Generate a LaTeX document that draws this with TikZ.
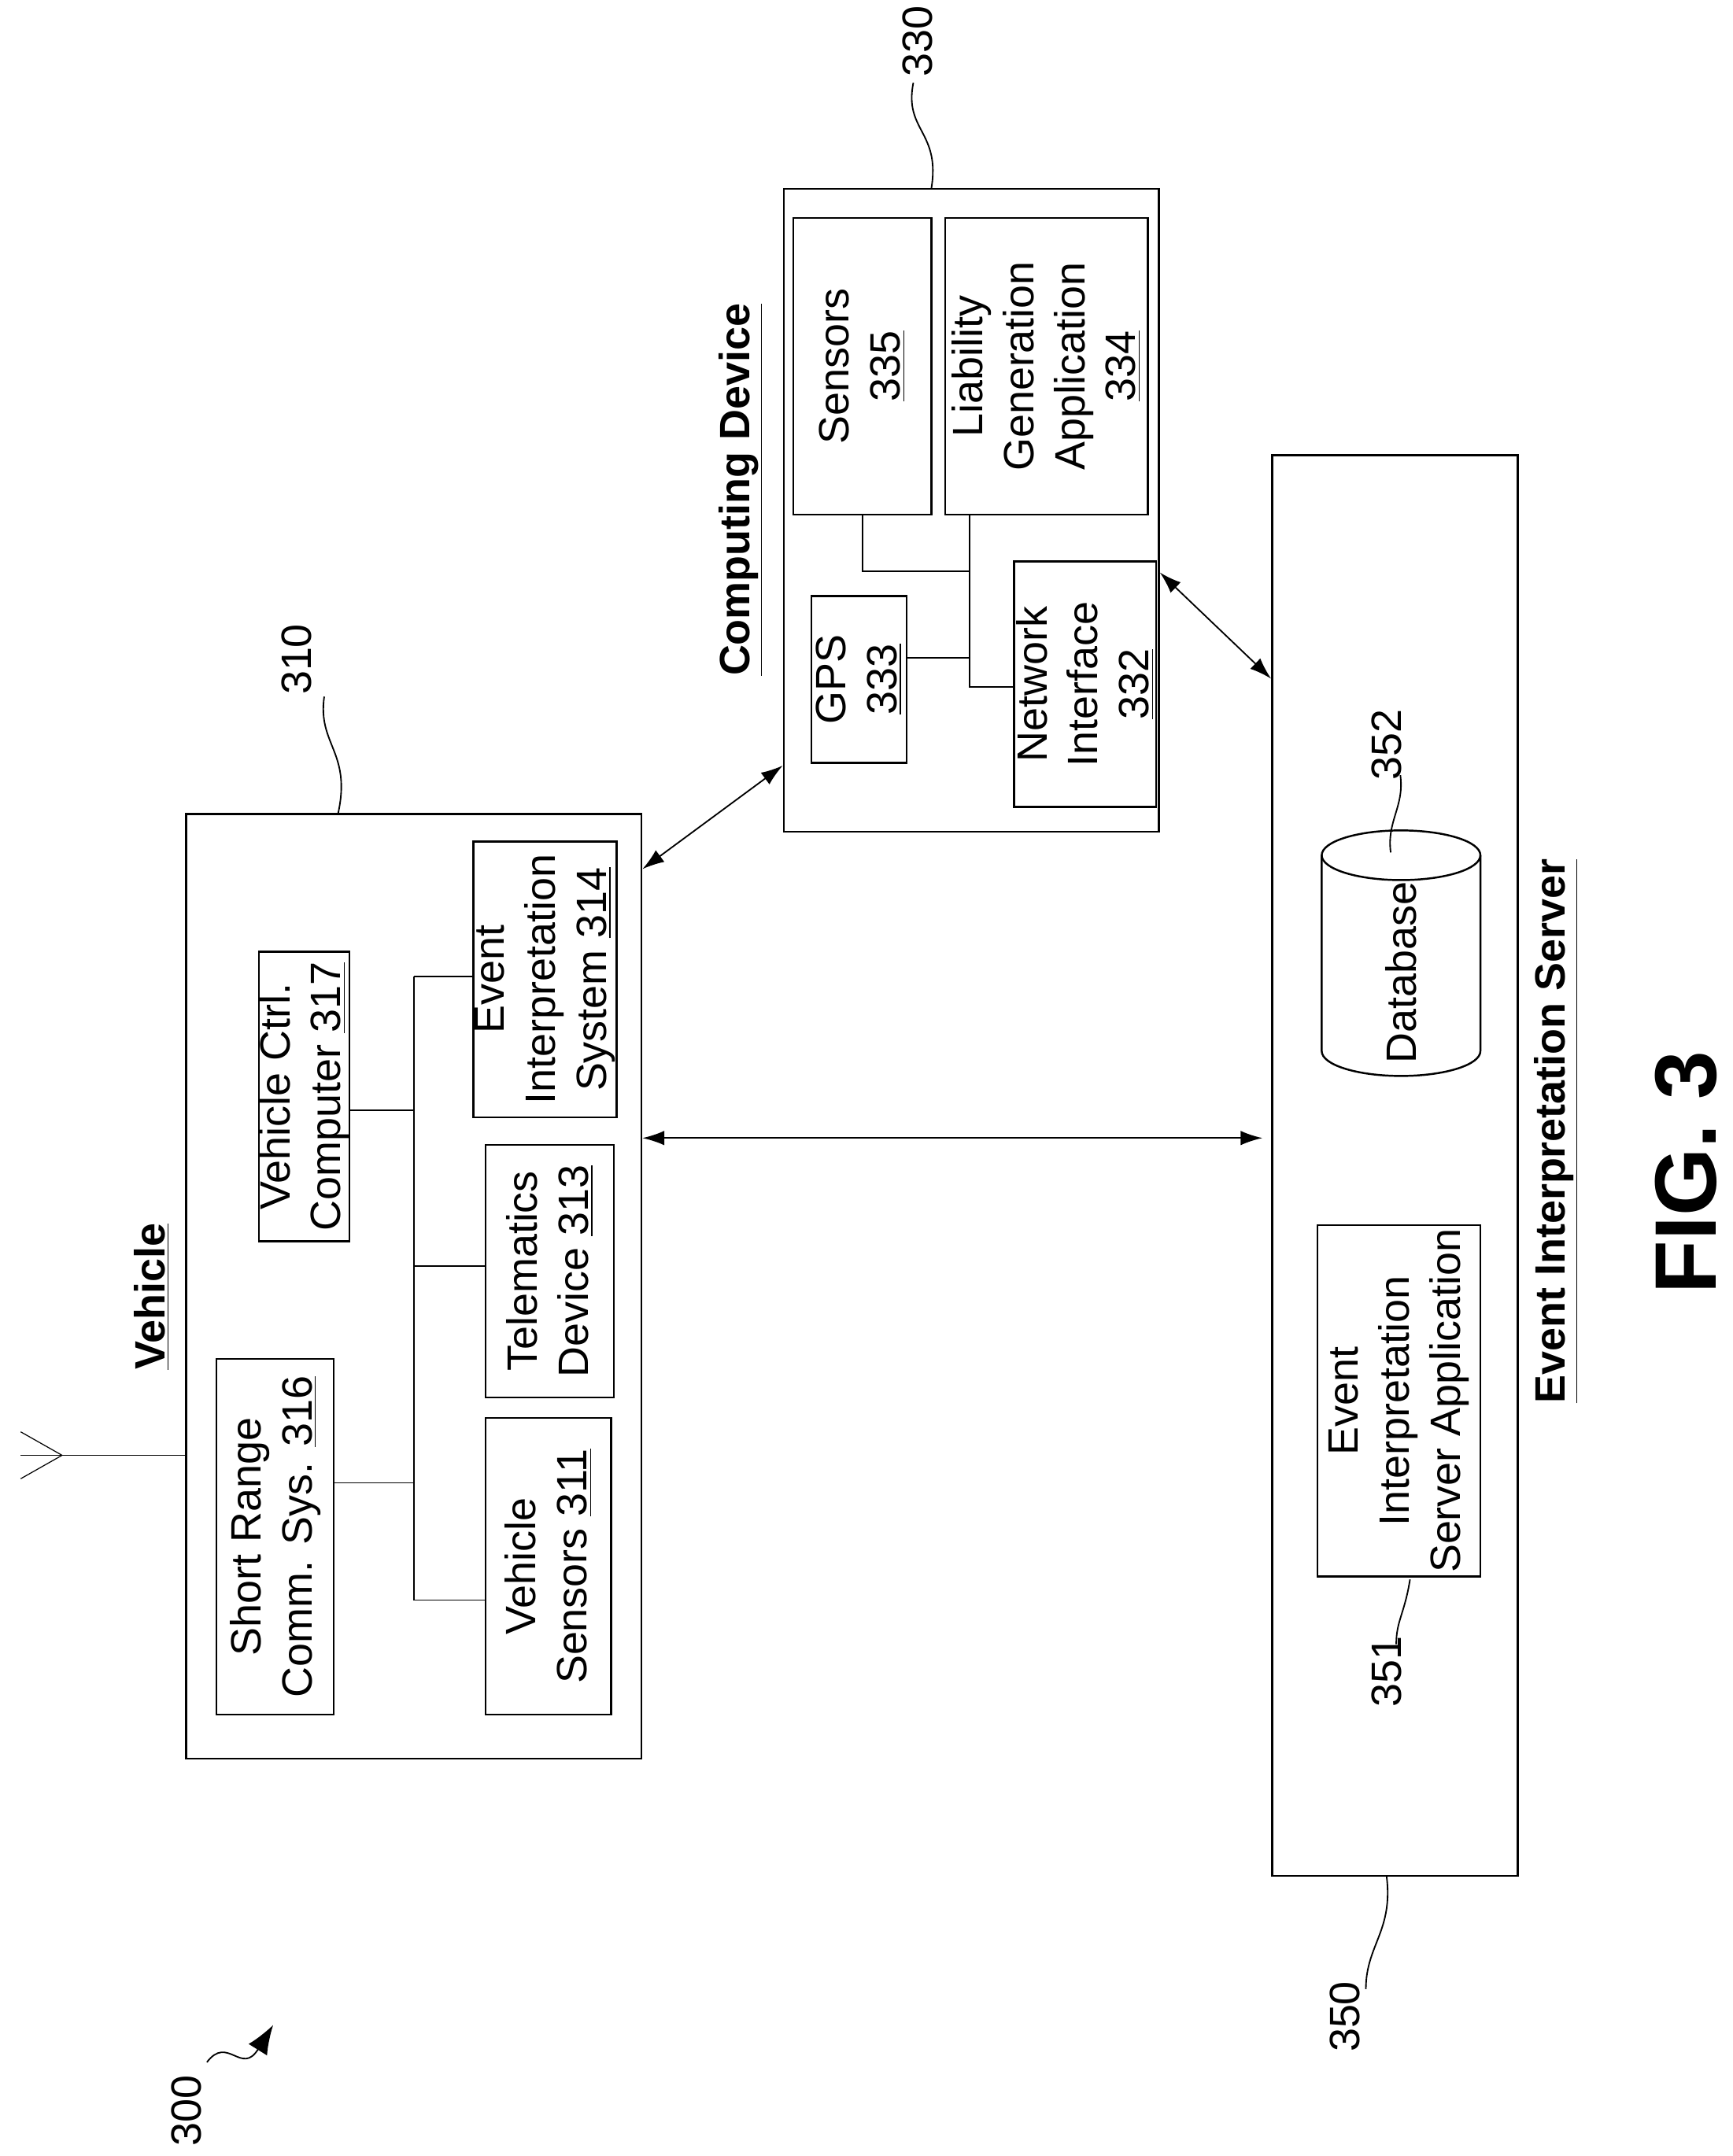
\documentclass[tikz,border=0pt]{standalone}
\usepackage{fontspec}
\setmainfont{Liberation Sans}
\usetikzlibrary{arrows.meta}
\newcommand{\ul}[1]{\underline{#1}}
\begin{document}
\begin{tikzpicture}
    [
        x = 0.02cm, y = -0.02cm,
        box/.style = {draw, line width=0.8pt, rotate=90, align=center,
            font=\fontsize{17.5}{21}\selectfont, inner sep=0pt},
        title/.style = {rotate=90, font=\bfseries\fontsize{17.5}{21}\selectfont},
        refnum/.style = {rotate=90, font=\fontsize{17.5}{21}\selectfont},
        link/.style = {line width=0.6pt},
        both/.style = {line width=0.6pt, {Latex[length=9pt,width=6pt]}-{Latex[length=9pt,width=6pt]}},
    ]
    \useasboundingbox (0,0) rectangle (1256,1563);

    % vehicle
    \node[box, minimum width=13.7cm, minimum height=6.6cm] (veh) at (300,932.5) {};
    \node[title] (vehl) at (110,940) {\ul{Vehicle}};
    \node[box, minimum width=5.16cm, minimum height=1.7cm] (srcs) at (199.5,1114) {Short Range\\Comm. Sys. \ul{316}};
    \node[box, minimum width=4.2cm, minimum height=1.14cm] (vcc) at (220.5,795) {Vehicle Ctrl.\\Computer \ul{317}};
    \node[box, minimum width=4.3cm, minimum height=1.82cm] (vs) at (397.5,1135.5) {Vehicle\\Sensors \ul{311}};
    \node[box, minimum width=3.66cm, minimum height=1.86cm] (td) at (398.5,921.5) {Telematics\\Device \ul{313}};
    \node[box, minimum width=4.0cm, minimum height=2.08cm] (eis) at (395,710) {Event\\Interpretation\\System \ul{314}};
    \coordinate (b1) at (300,708);
    \coordinate (b2) at (300,1160);
    \draw[link] (b1) -- (b2);
    \draw[link] (srcs.south |- 0,1075) -- (b1 |- 0,1075);
    \draw[link] (vcc.south |- 0,805) -- (b1 |- 0,805);
    \draw[link] (b1 |- 0,918) -- (td.north |- 0,918);
    \draw[link] (b1) -- (eis.north |- b1);
    \draw[link] (b2) -- (vs.north |- b2);
    % antenna
    \coordinate (ant) at (45,1055);
    \draw[line width=0.4pt] (veh.north |- ant) -- (15,1055);
    \draw[line width=0.4pt] (15,1038) -- (ant) -- (15,1072);

    % computing device
    \node[box, minimum width=9.32cm, minimum height=5.44cm] (cd) at (704,370) {};
    \node[title] (cdl) at (537,355) {\ul{Computing Device}};
    \node[box, minimum width=4.3cm, minimum height=2.0cm] (sens) at (625,265.5) {Sensors\\\ul{335}};
    \node[box, minimum width=4.3cm, minimum height=2.94cm] (lga) at (758.5,265.5) {Liability\\Generation\\Application\\\ul{334}};
    \node[box, minimum width=2.42cm, minimum height=1.38cm] (gps) at (622.5,492.5) {GPS\\\ul{333}};
    \node[box, minimum width=3.56cm, minimum height=2.06cm] (ni) at (786.5,496) {Network\\Interface\\\ul{332}};
    \coordinate (j1) at (703,414);
    \draw[link] (sens.west) -- (sens.west |- j1) -- (j1);
    \draw[link] (j1 |- lga.west) -- (j1 |- 0,498) -- (ni.north |- 0,498);
    \draw[link] (gps.south |- 0,477) -- (j1 |- 0,477);

    % server
    \node[box, minimum width=20.6cm, minimum height=3.56cm] (srv) at (1011,845) {};
    \node[title] (srvl) at (1128,820) {\ul{Event Interpretation Server}};
    \node[box, minimum width=5.1cm, minimum height=2.36cm] (eisa) at (1014,1015.5) {Event\\Interpretation\\Server Application};
    \draw[line width=0.8pt] (958,620) -- (958,762) arc[start angle=180, end angle=0, x radius=57.5, y radius=18] -- (1073,620);
    \draw[line width=0.8pt] (1015.5,620) ellipse[x radius=57.5, y radius=18];
    \node[refnum] (db) at (1015.5,705) {Database};

    % connections
    \draw[both] (veh.south |- 0,630) -- (cd.north |- 0,555);
    \draw[both] (veh.south |- 0,825) -- (915,825);
    \draw[both] (cd.south |- 0,415) -- (srv.north |- 0,492);

    % reference numerals
    \node[refnum] (n310) at (215,478) {310};
    \node[refnum] (n330) at (665,30) {330};
    \node[refnum] (n352) at (1005,540) {352};
    \node[refnum] (n351) at (1005,1212) {351};
    \node[refnum] (n350) at (975,1462) {350};
    \node[refnum] (n300) at (135,1530) {300};
    \draw[link] (245,590) .. controls (255,545) and (230,540) .. (235,505);
    \draw[link] (675,137) .. controls (682,95) and (655,95) .. (662,60);
    \draw[link] (1008,618) .. controls (1005,595) and (1018,585) .. (1015,562);
    \draw[link] (1022,1145) .. controls (1018,1170) and (1012,1175) .. (1012,1192);
    \draw[link] (1005,1360) .. controls (1010,1400) and (990,1410) .. (990,1442);
    \draw[link, -{Latex[length=12pt,width=9pt]}] (150,1495) .. controls (165,1475) and (175,1505) .. (198,1468);

    \node[rotate=90, font=\bfseries\fontsize{36}{40}\selectfont] (fig) at (1222,850) {FIG. 3};
\end{tikzpicture}
\end{document}
